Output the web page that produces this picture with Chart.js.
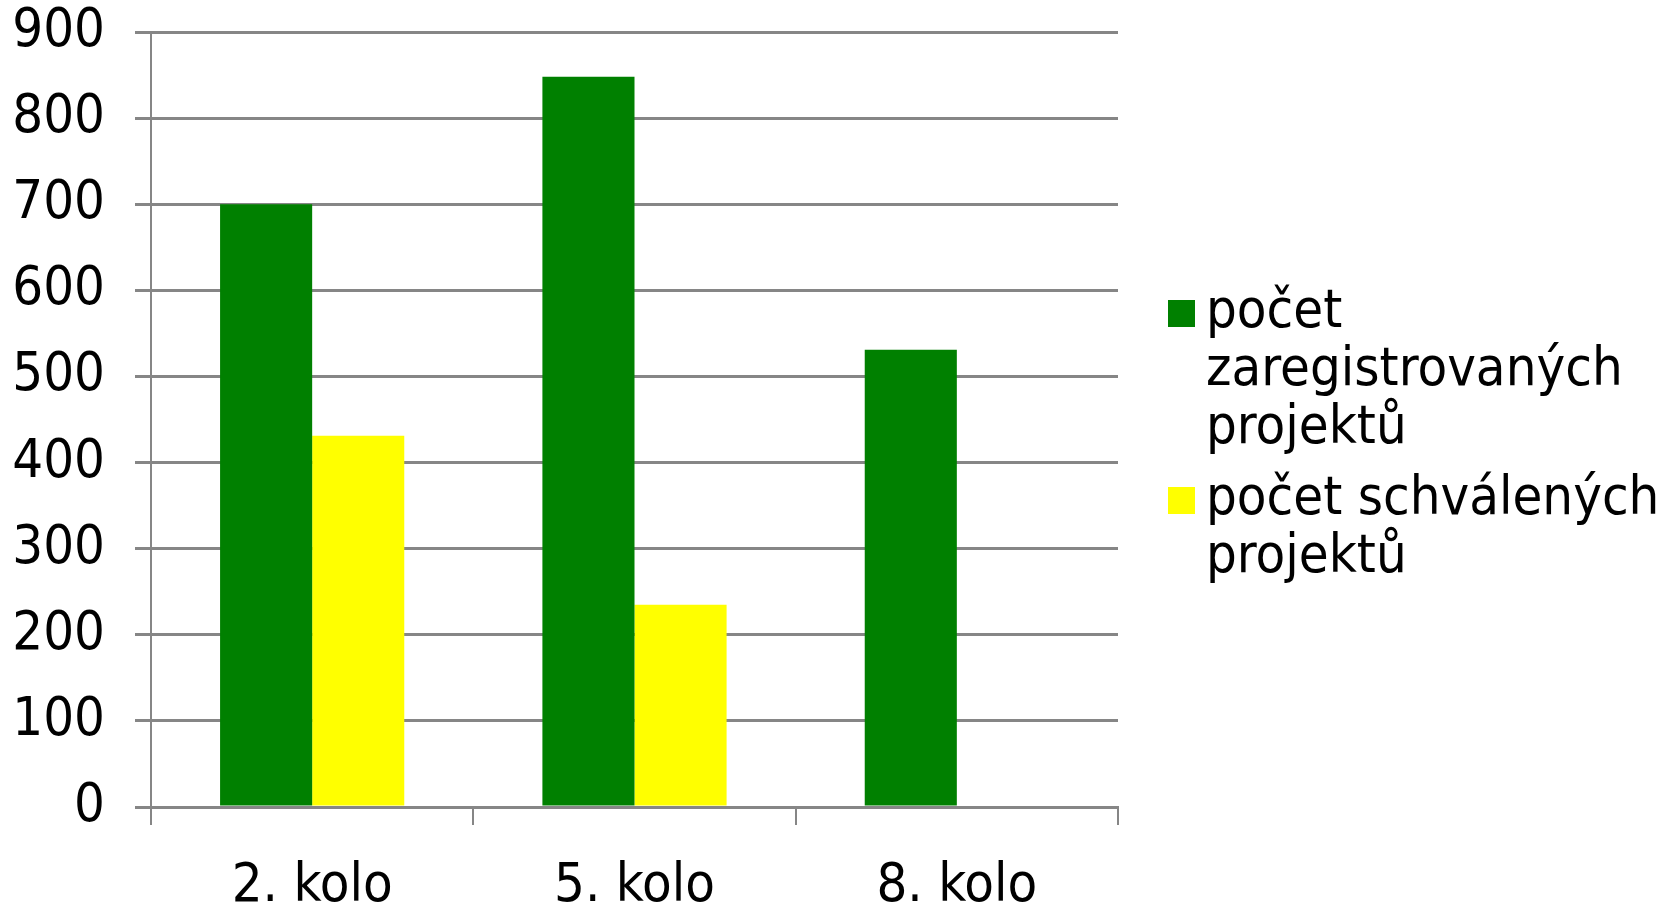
<!DOCTYPE html>
<html>
<head>
<meta charset="utf-8">
<script src="https://cdn.jsdelivr.net/npm/chart.js@4"></script>
<style>
  html, body { margin: 0; padding: 0; background: #fff; }
  #wrap { width: 1664px; height: 905px; position: relative; }
</style>
</head>
<body>
<div id="wrap"><canvas id="projects-chart"></canvas></div>
<script>
// Data
const rounds = ['2. kolo', '5. kolo', '8. kolo'];
const registered = [700, 848, 531];
const approved = [431, 235, null];
const yTicks = [0, 100, 200, 300, 400, 500, 600, 700, 800, 900];
const legendLines = [
  ['počet', 'zaregistrovaných', 'projektů'],
  ['počet schválených', 'projektů'],
];

const FONT = '"DejaVu Sans Condensed", "DejaVu Sans", Verdana, sans-serif';
const FONT_SIZE = 54;
const GRID = '#868686';

// Draws the wrapped legend to the right of the plot
const wrappedLegend = {
  id: 'wrappedLegend',
  afterDraw(chart) {
    const ctx = chart.ctx;
    const area = chart.chartArea;
    const boxX = area.right + 50;
    const textX = boxX + 38;
    const lineH = 58;
    let y = 313;
    ctx.save();
    ctx.font = FONT_SIZE + 'px ' + FONT;
    ctx.textBaseline = 'middle';
    chart.data.datasets.forEach(function (ds, i) {
      ctx.fillStyle = ds.backgroundColor;
      ctx.fillRect(boxX, y - 13, 27, 27);
      ctx.fillStyle = '#000';
      legendLines[i].forEach(function (line, j) {
        ctx.fillText(line, textX, y + j * lineH);
      });
      y += legendLines[i].length * lineH + 13;
    });
    ctx.restore();
  },
};

const ctx = document.getElementById('projects-chart').getContext('2d');
const projectsChart = new Chart(ctx, {
  type: 'bar',
  data: {
    labels: rounds,
    datasets: [
      {
        label: legendLines[0].join(' '),
        data: registered,
        backgroundColor: '#008000',
        borderWidth: 0,
      },
      {
        label: legendLines[1].join(' '),
        data: approved,
        backgroundColor: '#FFFF00',
        borderWidth: 0,
      },
    ],
  },
  options: {
    responsive: true,
    maintainAspectRatio: false,
    animation: false,
    layout: {
      padding: { top: 32, right: 546, left: 0, bottom: 0 },
    },
    datasets: {
      bar: {
        categoryPercentage: 2 / 3.5,
        barPercentage: 1,
      },
    },
    plugins: {
      legend: { display: false },
      tooltip: { enabled: false },
    },
    scales: {
      x: {
        offset: true,
        grid: {
          offset: true,
          drawOnChartArea: false,
          drawTicks: true,
          tickLength: 18,
          color: GRID,
          lineWidth: 2,
        },
        border: { display: true, color: GRID, width: 3 },
        ticks: {
          color: '#000',
          padding: 30,
          font: { family: FONT, size: FONT_SIZE },
        },
        afterFit(scale) {
          scale.height = 98;
        },
      },
      y: {
        min: 0,
        max: 900,
        afterBuildTicks(scale) {
          scale.ticks = yTicks.map(function (v) { return { value: v }; });
        },
        grid: {
          color: GRID,
          lineWidth: 3,
          drawTicks: true,
          tickLength: 16,
        },
        border: { display: true, color: GRID, width: 2 },
        ticks: {
          color: '#000',
          padding: 30,
          font: { family: FONT, size: FONT_SIZE },
        },
        afterFit(scale) {
          scale.width = 151;
          // top label may overflow into the layout padding
          scale.paddingTop = 0;
        },
      },
    },
  },
  plugins: [wrappedLegend],
});
</script>
</body>
</html>
